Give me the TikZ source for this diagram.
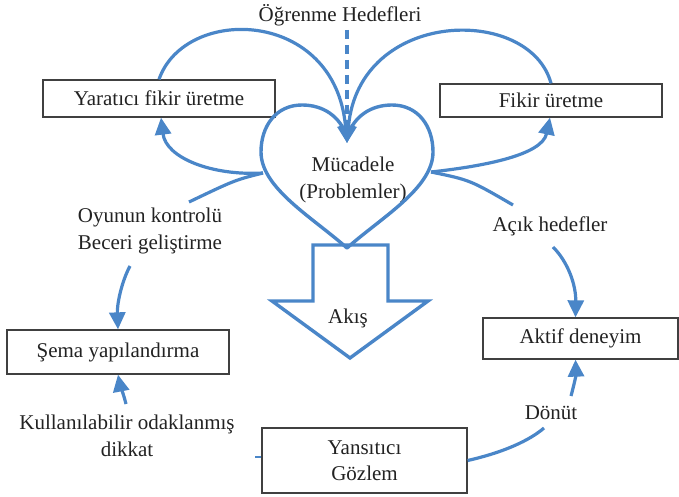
\documentclass[tikz,border=0pt]{standalone}
\usepackage{fontspec}
\setmainfont{Liberation Serif}
\usetikzlibrary{arrows.meta,calc}
\definecolor{flowblue}{HTML}{4A86C8}
\definecolor{txt}{HTML}{222222}
\begin{document}
\begin{tikzpicture}[x=1pt,y=-1pt,
  font=\fontsize{21}{26.5}\selectfont, text=txt,
  box/.style={draw=black!75, line width=1.3pt, inner sep=0pt},
  lbl/.style={align=center, inner sep=0pt},
  flow/.style={draw=flowblue, line width=3.2pt},
  tip/.style={-{Triangle[length=17pt,width=16pt]}}
]
\useasboundingbox (0,0) rectangle (679,497);

% boxes
\node[box, minimum width=232pt, minimum height=37pt] (yar) at (159,98.5) {Yaratıcı fikir üretme};
\node[box, minimum width=222pt, minimum height=33pt] (fik) at (551,100.5) {Fikir üretme};
\node[box, minimum width=222pt, minimum height=44pt] (sem) at (118,352) {Şema yapılandırma};
\node[box, minimum width=195pt, minimum height=41pt] (akt) at (580.5,338.5) {Aktif deneyim};
\node[box, minimum width=205pt, minimum height=65pt, align=center] (yan) at (364.5,460.5) {Yansıtıcı\\Gözlem};

% labels
\node[lbl] (ogr) at (340,15) {Öğrenme Hedefleri};
\node[lbl] (muc) at (353,180) {Mücadele\\(Problemler)};
\node[lbl] (aks) at (348,318) {Akış};
\node[lbl] (oyu) at (150,231) {Oyunun kontrolü\\Beceri geliştirme};
\node[lbl] (acik) at (550,226) {Açık hedefler};
\node[lbl] (kul) at (127,436) {Kullanılabilir odaklanmış\\dikkat};
\node[lbl] (don) at (551,413) {Dönüt};

% heart
\coordinate (notch) at (347,137);
\coordinate (hl) at (263,173);
\coordinate (hr) at (431,172);
\draw[flowblue, line width=3.4pt, line join=round]
  (notch) .. controls (340,116) and (323,105) .. (302,105)
  .. controls (276,105) and (261,126) .. (261,152)
  .. controls (261,188) and (312,217) .. (347,248)
  .. controls (382,217) and (433,188) .. (433,152)
  .. controls (433,126) and (418,105) .. (392,105)
  .. controls (371,105) and (354,116) .. (notch) -- cycle;

% block arrow
\draw[flowblue, line width=3.4pt, line join=miter]
  (313,245) -- (388,245) -- (388,301) -- (428,301) -- (350,358)
  -- (272,301) -- (313,301) -- cycle;

% dashed goal line
\coordinate (dtop) at (347,30);
\coordinate (dend) at (347,143);
\draw[flow, dash pattern=on 9pt off 6pt, tip] (dtop) -- (dend);

% arcs into the heart
\draw[flow, tip] (yar.north) .. controls (185,5) and (335,8) .. (dend);
\draw[flow, tip] (fik.north) .. controls (530,5) and (359,8) .. (dend);

% from heart to top boxes
\draw[flow, tip] (hl) .. controls (212,176) and (166,158) .. ([xshift=2pt]yar.south);
\draw[flow, tip] (hr) .. controls (485,166) and (542,155) .. ([xshift=-1pt]fik.south);

% from heart to labels
\coordinate (oyuE) at (189,202);
\draw[flow] (hl) .. controls (235,180) .. (oyuE);
\coordinate (acikE) at (513,205);
\draw[flow] (hr) .. controls (470,180) .. (acikE);

% label to boxes
\coordinate (oyuS) at (130,266);
\draw[flow, tip] (oyuS) .. controls (121,283) and (117,305) .. (sem.north);
\coordinate (acikS) at (553,247);
\draw[flow, tip] (acikS) .. controls (568,262) and (576,285) .. ([xshift=-5pt]akt.north);

\coordinate (kulN) at (126,404);
\draw[flow, tip] (kulN) .. controls (123,392) and (120,385) .. (sem.south);

\coordinate (donN) at (571,396);
\draw[flow, tip] (donN) .. controls (574,385) and (576,375) .. ([xshift=-5pt]akt.south);
\coordinate (donS) at (544,428);
\draw[flow] (yan.east) .. controls (505,452) and (530,440) .. (donS);

\coordinate (stub) at (255,457);
\draw[flow, line width=2.4pt] (stub) -- (stub -| yan.west);
\end{tikzpicture}
\end{document}
